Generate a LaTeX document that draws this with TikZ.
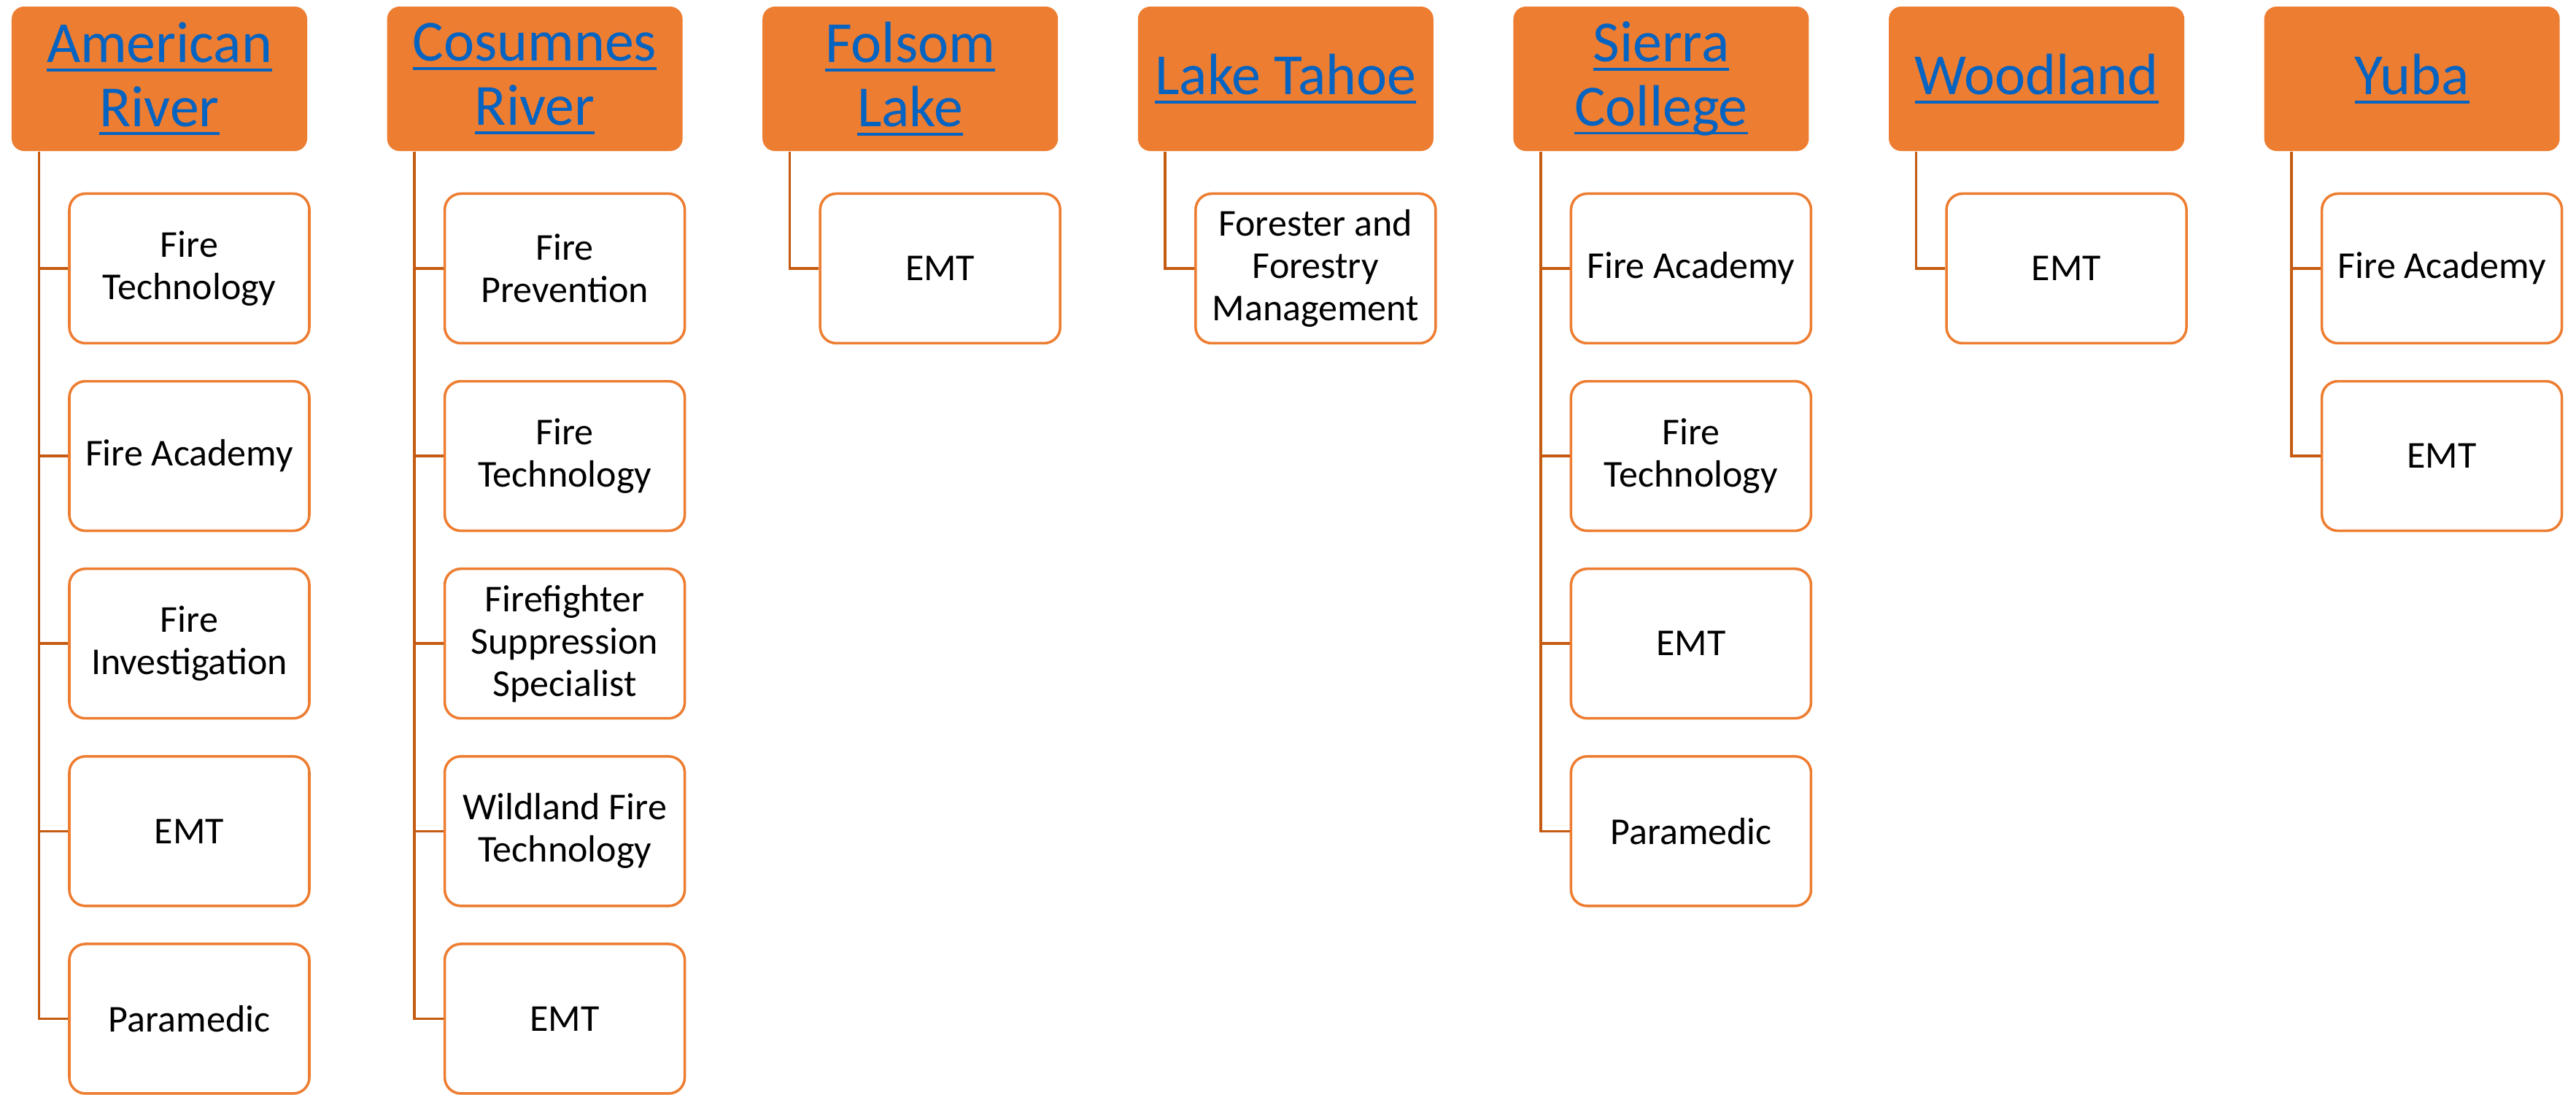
\documentclass[tikz,border=0pt]{standalone}
\usepackage{fontspec}
\setmainfont{Carlito}
\usepackage{tikz}
\usetikzlibrary{positioning}
\definecolor{hdrorange}{HTML}{ED7D31}
\definecolor{lnkblue}{HTML}{0563C1}
\definecolor{lineorange}{HTML}{C55A11}
\newsavebox{\lnkbox}
\newcommand{\lnk}[1]{\sbox{\lnkbox}{#1}\rlap{\rule[-3.4pt]{\wd\lnkbox}{1.1pt}}\usebox{\lnkbox}}

\begin{document}
\begin{tikzpicture}[
  hdr/.style={rectangle,rounded corners=0.17cm,fill=hdrorange,minimum width=4.05cm,minimum height=1.98cm,inner sep=0pt,align=center,text=lnkblue,font=\fontsize{22.7}{25}\selectfont},
  item/.style={rectangle,rounded corners=0.22cm,draw=hdrorange,line width=1pt,fill=white,minimum width=3.29cm,minimum height=2.05cm,inner sep=1pt,align=center,font=\fontsize{14.8}{16.5}\selectfont},
  conn/.style={draw=lineorange,line width=1pt}]
\useasboundingbox (0,0) rectangle (35.31,-15);
% colleges
\node[hdr] (ar) at (2.185,-1.08) {\lnk{American}\\\lnk{River}};
\node[hdr,right=1.082cm of ar] (cr) {\lnk{Cosumnes}\\\lnk{River}};
\node[hdr,right=1.082cm of cr] (fl) {\lnk{Folsom}\\\lnk{Lake}};
\node[hdr,right=1.082cm of fl] (lt) {\lnk{Lake Tahoe}};
\node[hdr,right=1.082cm of lt] (sc) {\lnk{Sierra}\\\lnk{College}};
\node[hdr,right=1.082cm of sc] (wd) {\lnk{Woodland}};
\node[hdr,right=1.082cm of wd] (yb) {\lnk{Yuba}};
% American River
\node[item,below=0.56cm of ar,xshift=0.41cm] (ar1) {Fire\\Technology};
\node[item,below=0.486cm of ar1] (ar2) {Fire Academy};
\node[item,below=0.486cm of ar2] (ar3) {Fire\\Investigation};
\node[item,below=0.486cm of ar3] (ar4) {EMT};
\node[item,below=0.486cm of ar4] (ar5) {Paramedic};
% Cosumnes River
\node[item,below=0.56cm of cr,xshift=0.41cm] (cr1) {Fire\\Prevention};
\node[item,below=0.486cm of cr1] (cr2) {Fire\\Technology};
\node[item,below=0.486cm of cr2] (cr3) {Firefighter\\Suppression\\Specialist};
\node[item,below=0.486cm of cr3] (cr4) {Wildland Fire\\Technology};
\node[item,below=0.486cm of cr4] (cr5) {EMT};
% Folsom Lake
\node[item,below=0.56cm of fl,xshift=0.41cm] (fl1) {EMT};
% Lake Tahoe
\node[item,below=0.56cm of lt,xshift=0.41cm] (lt1) {Forester and\\Forestry\\Management};
% Sierra College
\node[item,below=0.56cm of sc,xshift=0.41cm] (sc1) {Fire Academy};
\node[item,below=0.486cm of sc1] (sc2) {Fire\\Technology};
\node[item,below=0.486cm of sc2] (sc3) {EMT};
\node[item,below=0.486cm of sc3] (sc4) {Paramedic};
% Woodland
\node[item,below=0.56cm of wd,xshift=0.41cm] (wd1) {EMT};
% Yuba
\node[item,below=0.56cm of yb,xshift=0.41cm] (yb1) {Fire Academy};
\node[item,below=0.486cm of yb1] (yb2) {EMT};
% connectors
\draw[conn] ([xshift=0.38cm]ar.south west) |- (ar1.west);
\draw[conn] ([xshift=0.38cm]ar.south west) |- (ar2.west);
\draw[conn] ([xshift=0.38cm]ar.south west) |- (ar3.west);
\draw[conn] ([xshift=0.38cm]ar.south west) |- (ar4.west);
\draw[conn] ([xshift=0.38cm]ar.south west) |- (ar5.west);
\draw[conn] ([xshift=0.38cm]cr.south west) |- (cr1.west);
\draw[conn] ([xshift=0.38cm]cr.south west) |- (cr2.west);
\draw[conn] ([xshift=0.38cm]cr.south west) |- (cr3.west);
\draw[conn] ([xshift=0.38cm]cr.south west) |- (cr4.west);
\draw[conn] ([xshift=0.38cm]cr.south west) |- (cr5.west);
\draw[conn] ([xshift=0.38cm]fl.south west) |- (fl1.west);
\draw[conn] ([xshift=0.38cm]lt.south west) |- (lt1.west);
\draw[conn] ([xshift=0.38cm]sc.south west) |- (sc1.west);
\draw[conn] ([xshift=0.38cm]sc.south west) |- (sc2.west);
\draw[conn] ([xshift=0.38cm]sc.south west) |- (sc3.west);
\draw[conn] ([xshift=0.38cm]sc.south west) |- (sc4.west);
\draw[conn] ([xshift=0.38cm]wd.south west) |- (wd1.west);
\draw[conn] ([xshift=0.38cm]yb.south west) |- (yb1.west);
\draw[conn] ([xshift=0.38cm]yb.south west) |- (yb2.west);
\end{tikzpicture}
\end{document}
